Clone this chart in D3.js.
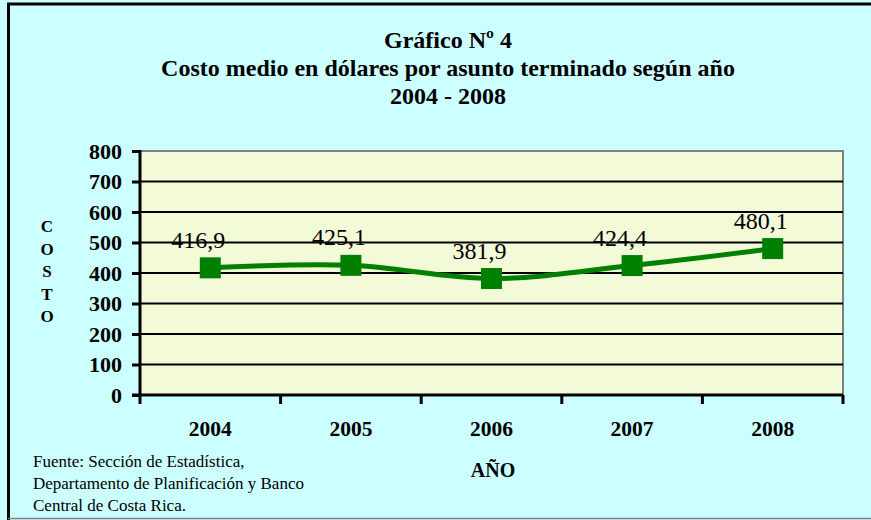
<!DOCTYPE html>
<html>
<head>
<meta charset="utf-8">
<script src="https://cdn.jsdelivr.net/npm/d3@7"></script>
<style>
  body { margin: 0; background: #ccffff; }
  svg { display: block; font-family: "Liberation Serif", "Times New Roman", serif; }
</style>
</head>
<body>
<svg id="svg" width="871" height="520"></svg>
<script>
// data
var years = ["2004", "2005", "2006", "2007", "2008"];
var costo = [416.9, 425.1, 381.9, 424.4, 480.1];
var yTicks = [0, 100, 200, 300, 400, 500, 600, 700, 800];
var titleLines = ["Gráfico Nº 4", "Costo medio en dólares por asunto terminado según año", "2004 - 2008"];
var fuente = ["Fuente: Sección de Estadística,", "Departamento de Planificación y Banco", "Central de Costa Rica."];

var svg = d3.select("#svg");

// background + frame
svg.append("rect").attr("x", 0).attr("y", 0).attr("width", 871).attr("height", 520).attr("fill", "#ccffff");
svg.append("path")
  .attr("d", "M8.5,520 V4 H871")
  .attr("fill", "none").attr("stroke", "#000").attr("stroke-width", 3);
svg.append("line").attr("x1", 8).attr("x2", 871).attr("y1", 518.5).attr("y2", 518.5)
  .attr("stroke", "#808080").attr("stroke-width", 1.5);

// plot box (note: "top" is reserved on window, so use other names)
var pLeft = 140, pRight = 843, pTop = 151, pBottom = 395;

var x = d3.scaleBand().domain(years).range([pLeft, pRight]);
var y = d3.scaleLinear().domain([0, 800]).range([pBottom, pTop]);

// plot area
svg.append("rect")
  .attr("x", pLeft).attr("y", pTop)
  .attr("width", pRight - pLeft).attr("height", pBottom - pTop)
  .attr("fill", "#f2fad8")
  .attr("stroke", "#808080").attr("stroke-width", 2);

// gridlines
svg.append("g")
  .selectAll("line")
  .data(yTicks.filter(function(d) { return d > 0 && d < 800; }))
  .join("line")
  .attr("x1", pLeft).attr("x2", pRight)
  .attr("y1", function(d) { return y(d); })
  .attr("y2", function(d) { return y(d); })
  .attr("stroke", "#000").attr("stroke-width", 2);

// y axis
var yAxis = svg.append("g")
  .attr("transform", "translate(" + pLeft + ",0)")
  .call(d3.axisLeft(y).tickValues(yTicks).tickSize(8).tickPadding(10));
yAxis.select(".domain").attr("stroke", "#000").attr("stroke-width", 3).attr("d", "M0," + (pTop - 1) + "V" + (pBottom + 1));
yAxis.selectAll(".tick line").attr("stroke", "#000").attr("stroke-width", 3);
yAxis.selectAll(".tick text")
  .attr("fill", "#000")
  .style("font-family", "Liberation Serif")
  .style("font-size", "22px").style("font-weight", "bold")
  .attr("dy", "0.33em");

// x axis
var xAxis = svg.append("g")
  .attr("transform", "translate(0," + pBottom + ")")
  .call(d3.axisBottom(x).tickSize(0).tickPadding(26));
xAxis.select(".domain").attr("stroke", "#000").attr("stroke-width", 3).attr("d", "M" + (pLeft - 8) + ",0H" + pRight);
xAxis.selectAll(".tick text")
  .attr("fill", "#000")
  .style("font-family", "Liberation Serif")
  .style("font-size", "21.5px").style("font-weight", "bold");
// tick marks at band boundaries
xAxis.selectAll(".sep")
  .data(years.map(function(d) { return x(d); }).concat([pRight]))
  .join("line")
  .attr("class", "sep")
  .attr("x1", function(d) { return d; }).attr("x2", function(d) { return d; })
  .attr("y1", 0).attr("y2", 9)
  .attr("stroke", "#000").attr("stroke-width", 3);

// line
var line = d3.line()
  .x(function(d, i) { return x(years[i]) + x.bandwidth() / 2; })
  .y(function(d) { return y(d); })
  .curve(d3.curveCatmullRom.alpha(0.5));

svg.append("path")
  .datum(costo)
  .attr("d", line)
  .attr("fill", "none")
  .attr("stroke", "#008000")
  .attr("stroke-width", 5);

svg.append("g")
  .selectAll("rect")
  .data(costo)
  .join("rect")
  .attr("x", function(d, i) { return x(years[i]) + x.bandwidth() / 2 - 10.5; })
  .attr("y", function(d) { return y(d) - 10.5; })
  .attr("width", 21).attr("height", 21)
  .attr("fill", "#008000");

// data labels (sit a little left of each marker, as in the original)
svg.append("g")
  .selectAll("text")
  .data(costo)
  .join("text")
  .attr("x", function(d, i) { return x(years[i]) + x.bandwidth() / 2 - 12; })
  .attr("y", function(d) { return y(d) - 20; })
  .attr("text-anchor", "middle")
  .style("font-size", "24px")
  .text(function(d) { return d3.format(".1f")(d).replace(".", ","); });

// titles
svg.append("g")
  .selectAll("text")
  .data(titleLines)
  .join("text")
  .attr("x", 448)
  .attr("y", function(d, i) { return 47.5 + i * 28; })
  .attr("text-anchor", "middle")
  .style("font-size", "24px").style("font-weight", "bold")
  .text(function(d) { return d; });

// y axis title, stacked letters
svg.append("g")
  .selectAll("text")
  .data("COSTO".split(""))
  .join("text")
  .attr("x", 47)
  .attr("y", function(d, i) { return 232 + i * 22.5; })
  .attr("text-anchor", "middle")
  .style("font-size", "17px").style("font-weight", "bold")
  .text(function(d) { return d; });

// x axis title
svg.append("text")
  .attr("x", 493).attr("y", 477)
  .attr("text-anchor", "middle")
  .style("font-size", "20px").style("font-weight", "bold")
  .text("AÑO");

// source note
svg.append("g")
  .selectAll("text")
  .data(fuente)
  .join("text")
  .attr("x", 33)
  .attr("y", function(d, i) { return 467 + i * 22; })
  .style("font-size", "17px")
  .text(function(d) { return d; });
</script>
</body>
</html>
